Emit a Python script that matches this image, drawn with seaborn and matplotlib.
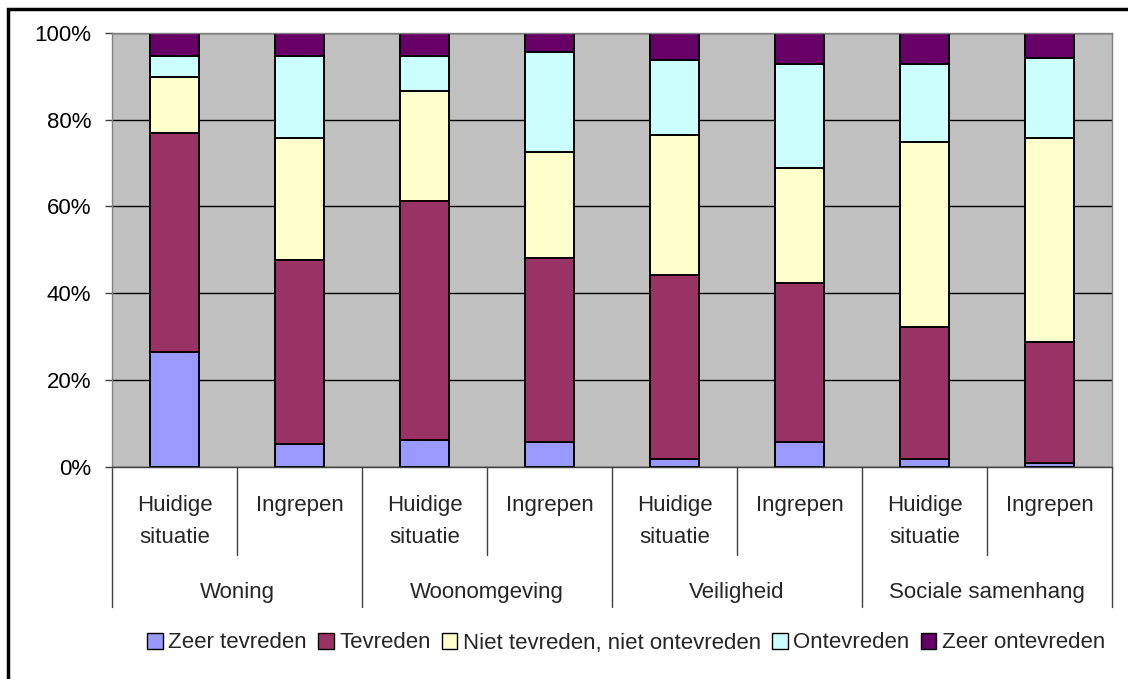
import matplotlib
matplotlib.use("Agg")
import matplotlib.pyplot as plt
import matplotlib.transforms as mtransforms
from matplotlib.patches import Patch, Rectangle
import seaborn as sns
import pandas as pd

# Share of respondents (%) per answer, per bar
groups = ["Woning", "Woonomgeving", "Veiligheid", "Sociale samenhang"]
situations = ["Huidige\nsituatie", "Ingrepen"]
answers = ["Zeer tevreden", "Tevreden", "Niet tevreden, niet ontevreden",
           "Ontevreden", "Zeer ontevreden"]
zeer_tevreden = [26.4, 5.2, 6.2, 5.6, 1.8, 5.6, 1.8, 0.8]
tevreden = [50.5, 42.4, 55.1, 42.5, 42.5, 36.8, 30.3, 28.0]
neutraal = [13.0, 28.3, 25.4, 24.5, 32.1, 26.4, 42.8, 47.1]
ontevreden = [4.7, 18.7, 7.9, 23.0, 17.4, 24.1, 18.0, 18.3]
zeer_ontevreden = [5.4, 5.4, 5.4, 4.4, 6.2, 7.1, 7.1, 5.8]
colors = ["#9999FF", "#993366", "#FFFFCC", "#CCFFFF", "#660066"]

series = [zeer_tevreden, tevreden, neutraal, ontevreden, zeer_ontevreden]
rows = []
for answer, vals in zip(answers, series):
    for i, v in enumerate(vals):
        rows.append({"bar": i, "answer": answer, "pct": v})
df = pd.DataFrame(rows)

sns.set_theme(style="white")
plt.rcParams["font.family"] = ["Liberation Sans", "DejaVu Sans"]
FS = 16

fig = plt.figure(figsize=(11.28, 6.79), dpi=100)
W, H = 1128, 679
ax = fig.add_axes([112 / W, (H - 466.7) / H, 1000 / W, 433.7 / H])
ax.set_facecolor("#C0C0C0")

# stacked bars: first hue level ends up on top, so reverse the order
sns.histplot(data=df, x="bar", weights="pct", hue="answer",
             hue_order=answers[::-1], palette=dict(zip(answers, colors)),
             multiple="stack", discrete=True, shrink=0.39, alpha=1,
             edgecolor="black", linewidth=1.4, legend=False, ax=ax)

ax.set_xlim(-0.5, 7.5)
ax.set_ylim(0, 100)
ax.set_yticks([0, 20, 40, 60, 80, 100])
ax.set_yticklabels([f"{t}%" for t in range(0, 101, 20)], fontsize=FS)
ax.yaxis.grid(True, color="black", linewidth=1)
ax.set_axisbelow(True)
ax.set_xticks([])
ax.set_xlabel("")
ax.set_ylabel("")
ax.tick_params(axis="y", length=5, width=1, color="#404040", pad=10,
               left=True, labelcolor="black")
for s in ax.spines.values():
    s.set_color("#808080")
    s.set_linewidth(1)
ax.spines["bottom"].set_color("#404040")

# multi-level category axis
trans = mtransforms.blended_transform_factory(ax.transData, fig.transFigure)
for g, name in enumerate(groups):
    for s, sit in enumerate(situations):
        ax.text(2 * g + s, (H - 495) / H, sit, transform=trans, ha="center",
                va="top", fontsize=FS, linespacing=1.69)
    ax.text(2 * g + 0.5, (H - 598) / H, name, transform=trans, ha="center",
            va="baseline", fontsize=FS)
for x in [0.5, 2.5, 4.5, 6.5]:
    ax.plot([x, x], [(H - 466.7) / H, (H - 555) / H], transform=trans,
            color="#404040", linewidth=1, clip_on=False)
for x in [-0.5, 1.5, 3.5, 5.5, 7.5]:
    ax.plot([x, x], [(H - 466.7) / H, (H - 607) / H], transform=trans,
            color="#404040", linewidth=1, clip_on=False)

handles = [Patch(facecolor=c, edgecolor="black", linewidth=1) for c in colors]
fig.legend(handles, answers, loc="center", bbox_to_anchor=(626 / W, (H - 643) / H),
           ncol=5, frameon=False, fontsize=FS, handlelength=0.7,
           handleheight=0.7, handletextpad=0.25, columnspacing=0.5,
           borderaxespad=0)

# outer chart border
fig.patches.append(Rectangle((8 / W, -0.05), 1.1, (H - 9) / H + 0.05,
                             transform=fig.transFigure, fill=False,
                             edgecolor="black", linewidth=2.5))

fig.savefig("out.png", dpi=100, facecolor="white")
